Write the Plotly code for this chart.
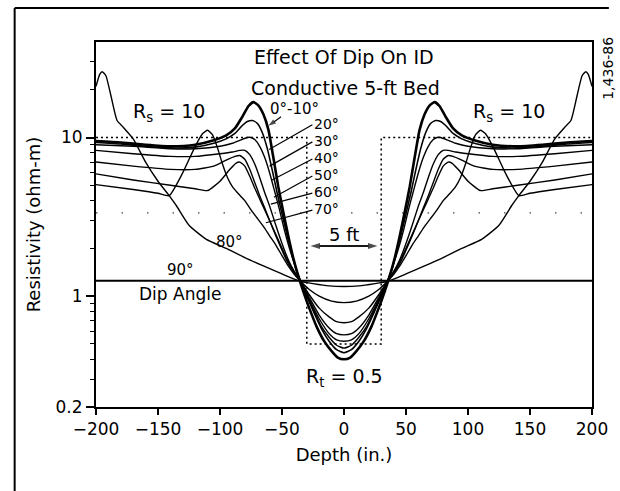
import math
import plotly.graph_objects as go

# ---------------- data ----------------
depth_0_10 = [-200, -180, -160, -140, -120, -105, -95, -88, -82, -77, -73, -69, -65, -61, -57, -53, -49, -45, -41, -37, -33, -28, -22, -16, -10, -5, 0,
              5, 10, 16, 22, 28, 33, 37, 41, 45, 49, 53, 57, 61, 65, 69, 73, 77, 82, 88, 95, 105, 120, 140, 160, 180, 200]
res_0_10 = [9.5, 9.3, 9.0, 8.8, 9.0, 9.6, 10.3, 11.4, 13.5, 15.8, 16.7, 15.9, 14.0, 11.2, 7.5, 4.9, 3.4, 2.4, 1.75, 1.35, 1.08, 0.84, 0.64, 0.52, 0.45, 0.41, 0.40,
            0.41, 0.45, 0.52, 0.64, 0.84, 1.08, 1.35, 1.75, 2.4, 3.4, 4.9, 7.5, 11.2, 14.0, 15.9, 16.7, 15.8, 13.5, 11.4, 10.3, 9.6, 9.0, 8.8, 9.0, 9.3, 9.5]

depth_20 = [-200, -180, -160, -140, -120, -105, -95, -88, -82, -78, -74, -70, -66, -62, -58, -54, -50, -46, -42, -38, -35, -30, -24, -18, -12, -6, 0,
            6, 12, 18, 24, 30, 35, 38, 42, 46, 50, 54, 58, 62, 66, 70, 74, 78, 82, 88, 95, 105, 120, 140, 160, 180, 200]
res_20 = [9.3, 9.1, 8.8, 8.6, 8.7, 9.2, 9.8, 10.6, 11.9, 12.6, 12.8, 12.3, 10.8, 8.6, 6.3, 4.5, 3.3, 2.45, 1.85, 1.42, 1.24, 1.0, 0.78, 0.62, 0.52, 0.46, 0.44,
          0.46, 0.52, 0.62, 0.78, 1.0, 1.24, 1.42, 1.85, 2.45, 3.3, 4.5, 6.3, 8.6, 10.8, 12.3, 12.8, 12.6, 11.9, 10.6, 9.8, 9.2, 8.7, 8.6, 8.8, 9.1, 9.3]

depth_30 = [-200, -170, -140, -120, -100, -90, -84, -78, -75, -72, -68, -64, -60, -56, -52, -48, -44, -40, -35, -30, -24, -18, -12, -6, 0,
            6, 12, 18, 24, 30, 35, 40, 44, 48, 52, 56, 60, 64, 68, 72, 75, 78, 84, 90, 100, 120, 140, 170, 200]
res_30 = [9.0, 8.8, 8.5, 8.5, 8.8, 9.2, 9.6, 10.0, 10.0, 9.7, 8.8, 7.5, 6.0, 4.6, 3.5, 2.6, 2.0, 1.6, 1.24, 1.0, 0.8, 0.64, 0.55, 0.49, 0.47,
          0.49, 0.55, 0.64, 0.8, 1.0, 1.24, 1.6, 2.0, 2.6, 3.5, 4.6, 6.0, 7.5, 8.8, 9.7, 10.0, 10.0, 9.6, 9.2, 8.8, 8.5, 8.5, 8.8, 9.0]

depth_40 = [-200, -170, -140, -120, -100, -90, -84, -80, -76, -72, -68, -64, -60, -55, -50, -45, -40, -35, -28, -20, -12, -6, 0,
            6, 12, 20, 28, 35, 40, 45, 50, 55, 60, 64, 68, 72, 76, 80, 84, 90, 100, 120, 140, 170, 200]
res_40 = [8.3, 7.9, 7.6, 7.6, 7.9, 8.1, 8.3, 8.3, 7.8, 6.8, 5.6, 4.5, 3.7, 2.8, 2.15, 1.7, 1.42, 1.24, 0.95, 0.72, 0.58, 0.53, 0.52,
          0.53, 0.58, 0.72, 0.95, 1.24, 1.42, 1.7, 2.15, 2.8, 3.7, 4.5, 5.6, 6.8, 7.8, 8.3, 8.3, 8.1, 7.9, 7.6, 7.6, 7.9, 8.3]

depth_50 = [-200, -170, -140, -120, -105, -95, -88, -84, -80, -76, -72, -68, -64, -60, -55, -50, -45, -40, -35, -28, -20, -12, -6, 0,
            6, 12, 20, 28, 35, 40, 45, 50, 55, 60, 64, 68, 72, 76, 80, 84, 88, 95, 105, 120, 140, 170, 200]
res_50 = [7.0, 6.6, 6.3, 6.3, 6.6, 7.2, 7.6, 7.7, 7.3, 6.3, 5.2, 4.3, 3.6, 3.0, 2.4, 1.95, 1.6, 1.4, 1.24, 0.98, 0.76, 0.63, 0.58, 0.57,
          0.58, 0.63, 0.76, 0.98, 1.24, 1.4, 1.6, 1.95, 2.4, 3.0, 3.6, 4.3, 5.2, 6.3, 7.3, 7.7, 7.6, 7.2, 6.6, 6.3, 6.3, 6.6, 7.0]

depth_60 = [-200, -170, -140, -120, -110, -100, -92, -87, -84, -80, -76, -72, -68, -64, -60, -55, -50, -45, -40, -35, -28, -20, -12, -6, 0,
            6, 12, 20, 28, 35, 40, 45, 50, 55, 60, 64, 68, 72, 76, 80, 84, 87, 92, 100, 110, 120, 140, 170, 200]
res_60 = [5.9, 5.4, 5.0, 4.75, 4.63, 5.3, 6.3, 6.9, 7.0, 6.6, 5.7, 4.8, 4.1, 3.5, 3.0, 2.45, 2.0, 1.65, 1.42, 1.24, 1.02, 0.84, 0.74, 0.69, 0.68,
          0.69, 0.74, 0.84, 1.02, 1.24, 1.42, 1.65, 2.0, 2.45, 3.0, 3.5, 4.1, 4.8, 5.7, 6.6, 7.0, 6.9, 6.3, 5.3, 4.63, 4.75, 5.0, 5.4, 5.9]

depth_70 = [-200, -170, -150, -141, -130, -120, -114, -110, -106, -102, -98, -94, -90, -85, -80, -75, -70, -65, -60, -55, -50, -45, -40, -35, -28, -20, -10, 0,
            10, 20, 28, 35, 40, 45, 50, 55, 60, 65, 70, 75, 80, 85, 90, 94, 98, 102, 106, 110, 114, 120, 130, 141, 150, 170, 200]
res_70 = [5.05, 4.7, 4.45, 4.3, 6.0, 8.8, 10.6, 11.1, 10.4, 8.6, 6.8, 5.6, 4.9, 4.4, 4.0, 3.5, 3.1, 2.75, 2.4, 2.1, 1.8, 1.55, 1.37, 1.24, 1.1, 1.0, 0.93, 0.91,
          0.93, 1.0, 1.1, 1.24, 1.37, 1.55, 1.8, 2.1, 2.4, 2.75, 3.1, 3.5, 4.0, 4.4, 4.9, 5.6, 6.8, 8.6, 10.4, 11.1, 10.6, 8.8, 6.0, 4.3, 4.45, 4.7, 5.05]

depth_80 = [-200, -197, -195, -192, -188, -183, -178, -170, -160, -150, -141, -135, -125, -111, -95, -80, -65, -50, -40, -35, -25, -12, 0,
            12, 25, 35, 40, 50, 65, 80, 95, 111, 125, 135, 141, 150, 160, 170, 178, 183, 188, 192, 195, 197, 200]
res_80 = [21.0, 25.0, 26.0, 24.5, 18.4, 12.8, 11.6, 9.8, 7.0, 5.3, 4.3, 3.7, 2.8, 2.28, 2.0, 1.75, 1.55, 1.38, 1.28, 1.24, 1.2, 1.16, 1.15,
          1.16, 1.2, 1.24, 1.28, 1.38, 1.55, 1.75, 2.0, 2.28, 2.8, 3.7, 4.3, 5.3, 7.0, 9.8, 11.6, 12.8, 18.4, 24.5, 26.0, 25.0, 21.0]

depth_90 = [-200, 200]
res_90 = [1.25, 1.25]

# idealised bed model (dotted step)
model_depth = [-200, -30, -30, 30, 30, 200]
model_res = [10, 10, 0.5, 0.5, 10, 10]

# dip-angle labels and the points of the curves that their leader lines touch
dip_labels = ["20°", "30°", "40°", "50°", "60°", "70°"]
label_res = [12.2, 9.53, 7.43, 5.8, 4.53, 3.54]
leader_end_depth = [-60.4, -60.0, -58.0, -56.5, -59.0, -63.0]
leader_end_res = [8.4, 6.6, 5.4, 4.2, 3.8, 2.9]

x_ticks = [-200, -150, -100, -50, 0, 50, 100, 150, 200]
x_tick_text = ["\u2212200", "\u2212150", "\u2212100", "\u221250", "0", "50", "100", "150", "200"]
y_ticks = [0.2, 1, 10]
y_tick_text = ["0.2", "1", "10"]
y_minor = [0.3, 0.4, 0.5, 0.6, 0.7, 0.8, 0.9, 2, 3, 4, 5, 6, 7, 8, 9, 20, 30]

FONT = "DejaVu Sans"
LABEL_X = -25.5

fig = go.Figure()

def line(x, y, w, dash=None, color="black", shape="spline"):
    fig.add_trace(go.Scatter(x=x, y=y, mode="lines",
                             line=dict(color=color, width=w, shape=shape, smoothing=0.5, dash=dash),
                             hoverinfo="skip", showlegend=False))

def arrow(x, y, w=1.5, size=9):
    fig.add_trace(go.Scatter(x=x, y=y, mode="lines+markers",
                             line=dict(color="black", width=w),
                             marker=dict(symbol="arrow", size=[0, size], angleref="previous",
                                         color="black", line=dict(width=0)),
                             hoverinfo="skip", showlegend=False))

# model
line(model_depth, model_res, 1.5, dash="2px,3px", shape="linear")
# faint sparse dotted line from the scan
line([-200, 200], [3.35, 3.35], 1.2, dash="1.5px,24px", color="#444", shape="linear")

line(depth_90, res_90, 2.2, shape="linear")
line(depth_80, res_80, 1.4)
line(depth_70, res_70, 1.4)
line(depth_60, res_60, 1.4)
line(depth_50, res_50, 1.4)
line(depth_40, res_40, 1.4)
line(depth_30, res_30, 1.4)
line(depth_20, res_20, 1.6)
line(depth_0_10, res_0_10, 2.6)

# leader lines for the dip labels
for ry, ex, ey in zip(label_res, leader_end_depth, leader_end_res):
    line([LABEL_X, ex], [ry * 0.985, ey], 1.2, shape="linear")
# arrow for 0°-10°
arrow([-50.8, -61.0], [13.5, 11.85], w=1.2, size=8)
# 5 ft double arrow
arrow([0, -27], [2.07, 2.07], w=1.8, size=10)
arrow([0, 27], [2.07, 2.07], w=1.8, size=10)

ann = []
def text(x, y, s, size=18, xanchor="center"):
    ann.append(dict(x=x, y=math.log10(y), xref="x", yref="y", text=s, showarrow=False,
                    xanchor=xanchor, yanchor="middle", font=dict(family=FONT, size=size, color="black")))

text(0, 32.4, "Effect Of Dip On ID", 19)
text(1, 20.5, "Conductive 5-ft Bed", 19)
text(-141, 14.3, "R<sub>s</sub> = 10", 19)
text(133, 14.3, "R<sub>s</sub> = 10", 19)
text(-40, 15.2, "0°-10°", 15)
for lab, ry in zip(dip_labels, label_res):
    text(LABEL_X, ry, lab, 14, "left")
text(-92, 2.19, "80°", 15)
text(-132, 1.46, "90°", 15)
text(-132, 1.03, "Dip Angle", 17)
text(0, 2.46, "5 ft", 18)
text(0, 0.305, "R<sub>t</sub> = 0.5", 19)

# plate number
ann.append(dict(x=1.032, y=0.929, xref="paper", yref="paper", text="1,436-86", showarrow=False,
                textangle=-90, xanchor="center", yanchor="middle",
                font=dict(family=FONT, size=14, color="black")))

fig.update_layout(
    width=620, height=491,
    margin=dict(l=96, r=25, t=42, b=84),
    paper_bgcolor="white", plot_bgcolor="white",
    annotations=ann,
    font=dict(family=FONT, size=16, color="black"),
    xaxis=dict(range=[-200, 200], tickvals=x_ticks, ticktext=x_tick_text,
               ticks="outside", ticklen=6, tickwidth=1.5, tickcolor="black",
               showline=True, linecolor="black", linewidth=2, mirror=True,
               showgrid=False, zeroline=False,
               tickfont=dict(family=FONT, size=17),
               title=dict(text="Depth (in.)", font=dict(family=FONT, size=18), standoff=10)),
    yaxis=dict(type="log", range=[math.log10(0.2), math.log10(40)],
               tickvals=y_ticks, ticktext=y_tick_text,
               ticks="outside", ticklen=8, tickwidth=1.5, tickcolor="black",
               minor=dict(tickvals=y_minor, ticks="outside", ticklen=4, tickwidth=1, tickcolor="black"),
               showline=True, linecolor="black", linewidth=2, mirror=True,
               showgrid=False, zeroline=False,
               tickfont=dict(family=FONT, size=17),
               title=dict(text="Resistivity (ohm-m)", font=dict(family=FONT, size=18), standoff=10)),
    shapes=[
        dict(type="line", xref="paper", yref="paper", x0=-0.164, y0=1.093, x1=-0.164, y1=-0.25,
             line=dict(color="black", width=2)),
        dict(type="line", xref="paper", yref="paper", x0=-0.164, y0=1.093, x1=1.034, y1=1.093,
             line=dict(color="black", width=2)),
    ],
)

fig.write_html("out.html")
